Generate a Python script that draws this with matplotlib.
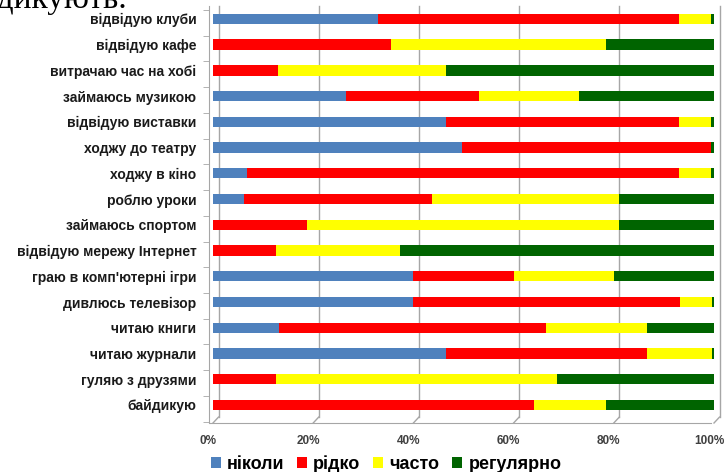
import numpy as np
import matplotlib
matplotlib.use("Agg")
import matplotlib.pyplot as plt
from matplotlib.patches import Patch
from matplotlib.transforms import ScaledTranslation

# categories, top to bottom
activities = [
    "відвідую клуби",
    "відвідую кафе",
    "витрачаю час на хобі",
    "займаюсь музикою",
    "відвідую виставки",
    "ходжу до театру",
    "ходжу в кіно",
    "роблю уроки",
    "займаюсь спортом",
    "відвідую мережу Інтернет",
    "граю в комп'ютерні ігри",
    "дивлюсь телевізор",
    "читаю книги",
    "читаю журнали",
    "гуляю з друзями",
    "байдикую",
]
# share of answers, %
never = [33, 0, 0, 26.5, 46.5, 49.8, 6.8, 6.2, 0, 0, 40, 40, 13.2, 46.5, 0, 0]
rarely = [60, 35.5, 13, 26.5, 46.5, 49.7, 86.2, 37.5, 18.7, 12.5, 20, 53.2, 53.3, 40.1, 12.5, 64]
often = [6.5, 43, 33.5, 20, 6.5, 0, 6.5, 37.3, 62.3, 24.8, 20, 6.5, 20.1, 13, 56.2, 14.5]
regular = [0.5, 21.5, 53.5, 27, 0.5, 0.5, 0.5, 19, 19, 62.7, 20, 0.3, 13.4, 0.4, 31.3, 21.5]

series = [("ніколи", never, "#4f81bd"), ("рідко", rarely, "#ff0000"),
          ("часто", often, "#ffff00"), ("регулярно", regular, "#006400")]
ticks = [0, 20, 40, 60, 80, 100]

plt.rcParams["font.family"] = ["Liberation Sans", "DejaVu Sans"]

fig = plt.figure(figsize=(7.24, 4.72), dpi=100)
W, H = 724, 472
ax = fig.add_axes([213 / W, (H - 423) / H, 501 / W, 417 / H])

n = len(activities)
y = np.arange(n)
left = np.zeros(n)
for name, vals, col in series:
    vals = np.array(vals, dtype=float)
    ax.barh(y, vals, left=left, height=0.4, color=col, edgecolor="none", zorder=3)
    left += vals

ax.set_xlim(0, 100)
ax.set_ylim(n - 0.3, -0.5)

# pseudo-3D back wall gridlines and floor ticks
depth = 1.1
back_floor = n - 0.53
for t in ticks:
    ax.plot([t + depth, t + depth], [-0.5, back_floor], color="#a6a6a6", lw=1, zorder=1, clip_on=False)
    ax.plot([t, t + depth], [n - 0.3, back_floor], color="#a6a6a6", lw=1, zorder=1, clip_on=False)

for s in ["top", "right"]:
    ax.spines[s].set_visible(False)
ax.spines["left"].set_color("#a6a6a6")
ax.spines["left"].set_position(("outward", 3))
ax.spines["bottom"].set_color("#a6a6a6")
ax.spines["bottom"].set_bounds(-0.6, 99.4)

ax.set_yticks(y)
ax.set_yticklabels(activities, fontsize=10, fontweight="bold", color="#1a1a1a")
ax.set_yticks(np.arange(n + 1) - 0.35, minor=True)
ax.tick_params(axis="y", which="major", length=0, pad=9)
ax.tick_params(axis="y", which="minor", length=4, color="#a6a6a6")

ax.set_xticks(ticks)
ax.set_xticklabels([f"{t}%" for t in ticks], fontsize=8.5, fontweight="bold", color="#404040")
ax.tick_params(axis="x", length=0, pad=9)
for lab in ax.get_xticklabels():
    lab.set_transform(lab.get_transform() + ScaledTranslation(-5 / 100, 0, fig.dpi_scale_trans))

handles = [Patch(facecolor=col, label=name) for name, _, col in series]
fig.legend(handles=handles, loc="center", bbox_to_anchor=(386 / W, 1 - 464 / H), ncol=4,
           frameon=False, handlelength=0.55, handleheight=0.55, handletextpad=0.35,
           columnspacing=0.7, prop={"weight": "bold", "size": 13})

# cut-off line of the surrounding document text
fig.text(127 / W, 1 - 8 / H, "байдикують.", family="Liberation Serif", fontsize=24,
         ha="right", va="baseline", color="black")

fig.savefig("out.png", dpi=100)
